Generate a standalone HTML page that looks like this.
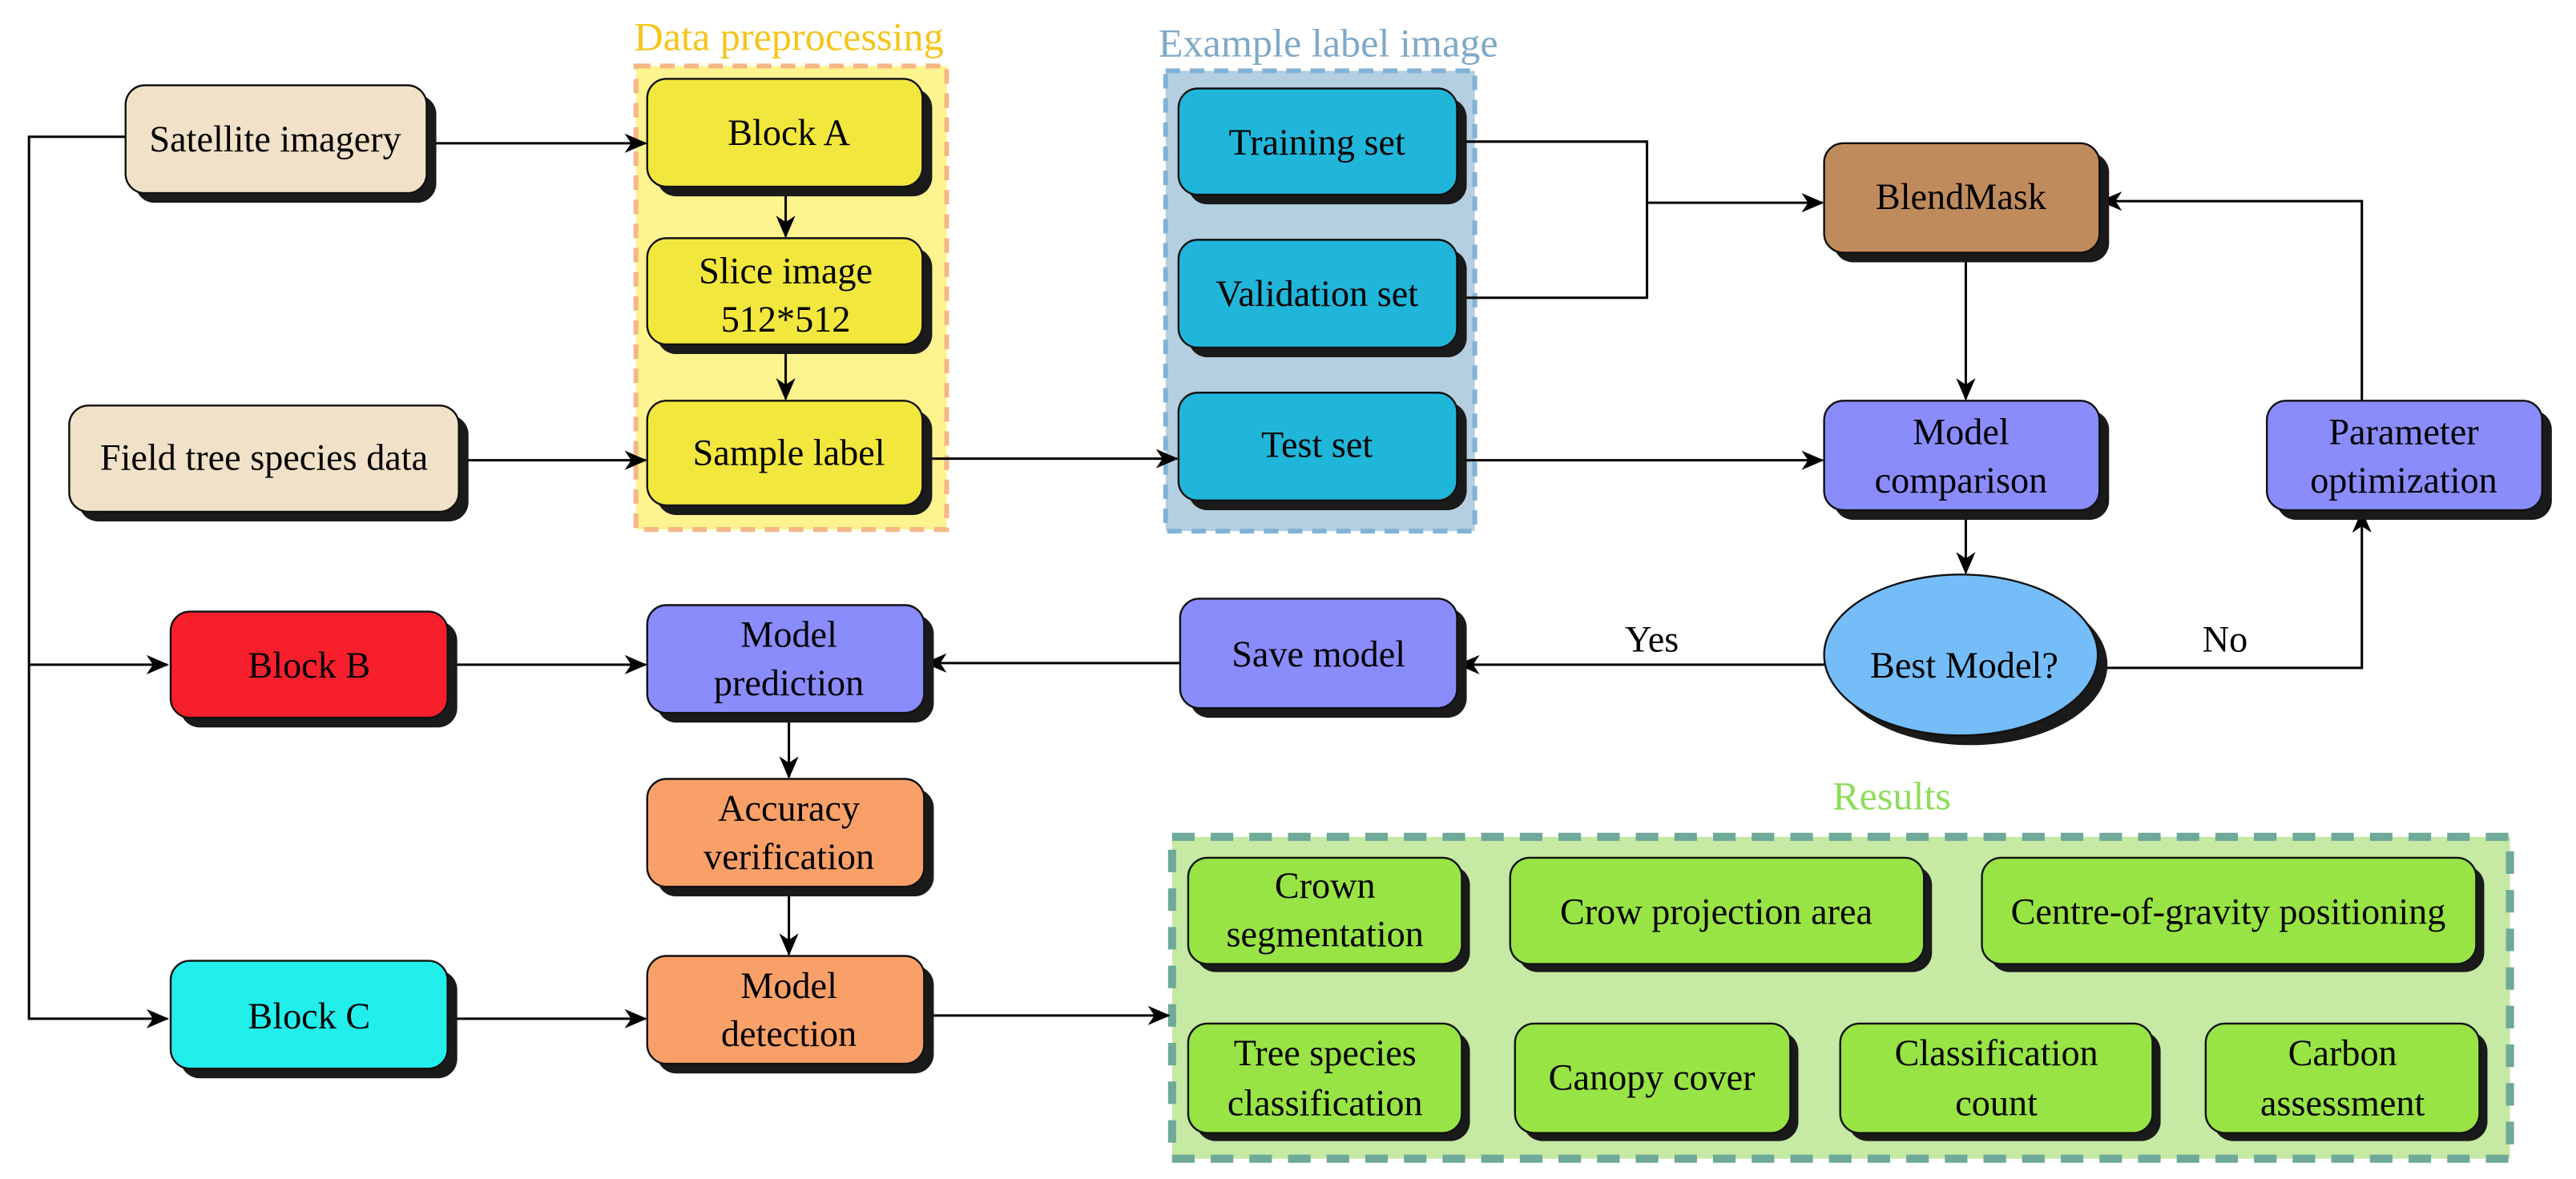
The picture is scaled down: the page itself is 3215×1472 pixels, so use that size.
<!DOCTYPE html>
<html><head><meta charset="utf-8"><style>
html,body{margin:0;padding:0;background:#fff;}
svg{display:block;}
svg text{font-family:"Liberation Serif","DejaVu Serif",serif;font-size:23px;fill:#000;text-anchor:middle;}
</style></head><body>
<svg width="3215" height="1472" viewBox="0 0 1600 732.6" preserveAspectRatio="none" xmlns="http://www.w3.org/2000/svg" font-family="Liberation Serif, DejaVu Serif, serif">
<defs>
<marker id="a" markerWidth="14" markerHeight="12" refX="13" refY="6" orient="auto" markerUnits="userSpaceOnUse">
<path d="M0,0 L14,6 L0,12 L4,6 Z" fill="#000"/>
</marker>
</defs>

<rect x="395" y="41" width="193" height="288" fill="#fdf38f" stroke="#f6b784" stroke-width="3" stroke-dasharray="9,6"/>
<text x="490" y="31" font-family="Liberation Serif, serif" style="fill:#f5c518;font-size:25px">Data preprocessing</text>
<rect x="724" y="44" width="192" height="286" fill="#b4cfe0" stroke="#82b3d6" stroke-width="3" stroke-dasharray="9,6"/>
<text x="825" y="35" font-family="Liberation Serif, serif" style="fill:#7fa9c8;font-size:25px">Example label image</text>
<rect x="728" y="520" width="831" height="200" fill="#c6e9a3" stroke="#6ea999" stroke-width="5" stroke-dasharray="14,10"/>
<text x="1175" y="503" font-family="Liberation Serif, serif" style="fill:#8fdc5c;font-size:25px">Results</text>

<g stroke="#000" stroke-width="1.5" fill="none">
<path d="M78,85 H18 V633 H104" marker-end="url(#a)"/>
<path d="M18,413 H104" marker-end="url(#a)"/>
<path d="M265,89 H401" marker-end="url(#a)"/>
<path d="M285,286 H401" marker-end="url(#a)"/>
<path d="M488,116 V147" marker-end="url(#a)"/>
<path d="M488,214 V248" marker-end="url(#a)"/>
<path d="M573,285 H731" marker-end="url(#a)"/>
<path d="M905,88 H1023 V185 H905"/>
<path d="M1023,126 H1132" marker-end="url(#a)"/>
<path d="M905,286 H1132" marker-end="url(#a)"/>
<path d="M1221,157 V248" marker-end="url(#a)"/>
<path d="M1221,317 V356" marker-end="url(#a)"/>
<path d="M1133,413 H906" marker-end="url(#a)"/>
<path d="M1303,415 H1467 V318" marker-end="url(#a)"/>
<path d="M1467,249 V125 H1305" marker-end="url(#a)"/>
<path d="M733,412 H575" marker-end="url(#a)"/>
<path d="M278,413 H401" marker-end="url(#a)"/>
<path d="M490,443 V483" marker-end="url(#a)"/>
<path d="M490,551 V593" marker-end="url(#a)"/>
<path d="M278,633 H401" marker-end="url(#a)"/>
<path d="M574,631 H726" marker-end="url(#a)"/>
</g>

<g stroke="#111" stroke-width="1.2">
<g fill="#1a1a1a" stroke="none">
<rect x="84" y="59" width="187" height="67" rx="12"/>
<rect x="49" y="258" width="242" height="66" rx="12"/>
<rect x="408" y="55" width="171" height="67" rx="12"/>
<rect x="408" y="154" width="171" height="66" rx="12"/>
<rect x="408" y="255" width="171" height="65" rx="12"/>
<rect x="738" y="61" width="173" height="66" rx="12"/>
<rect x="738" y="155" width="173" height="67" rx="12"/>
<rect x="738" y="250" width="173" height="67" rx="12"/>
<rect x="1139" y="95" width="171" height="68" rx="12"/>
<rect x="1139" y="255" width="171" height="68" rx="12"/>
<rect x="1414" y="255" width="171" height="68" rx="12"/>
<rect x="739" y="378" width="172" height="68" rx="12"/>
<ellipse cx="1224" cy="413" rx="85" ry="50"/>
<rect x="112" y="386" width="172" height="66" rx="12"/>
<rect x="408" y="382" width="172" height="67" rx="12"/>
<rect x="408" y="490" width="172" height="67" rx="12"/>
<rect x="408" y="600" width="172" height="67" rx="12"/>
<rect x="112" y="603" width="172" height="67" rx="12"/>
<rect x="743" y="538" width="170" height="66" rx="12"/>
<rect x="943" y="538" width="257" height="66" rx="12"/>
<rect x="1236" y="538" width="307" height="66" rx="12"/>
<rect x="743" y="641" width="170" height="68" rx="12"/>
<rect x="946" y="641" width="171" height="68" rx="12"/>
<rect x="1148" y="641" width="194" height="68" rx="12"/>
<rect x="1375" y="641" width="170" height="68" rx="12"/>
</g>
<rect x="78" y="53" width="187" height="67" rx="12" fill="#f0e1c8"/>
<rect x="43" y="252" width="242" height="66" rx="12" fill="#f0e1c8"/>
<rect x="402" y="49" width="171" height="67" rx="12" fill="#f2e73c"/>
<rect x="402" y="148" width="171" height="66" rx="12" fill="#f2e73c"/>
<rect x="402" y="249" width="171" height="65" rx="12" fill="#f2e73c"/>
<rect x="732" y="55" width="173" height="66" rx="12" fill="#20b6da"/>
<rect x="732" y="149" width="173" height="67" rx="12" fill="#20b6da"/>
<rect x="732" y="244" width="173" height="67" rx="12" fill="#20b6da"/>
<rect x="1133" y="89" width="171" height="68" rx="12" fill="#c08b5c"/>
<rect x="1133" y="249" width="171" height="68" rx="12" fill="#8a8cfb"/>
<rect x="1408" y="249" width="171" height="68" rx="12" fill="#8a8cfb"/>
<rect x="733" y="372" width="172" height="68" rx="12" fill="#8a8cfb"/>
<ellipse cx="1218" cy="407" rx="85" ry="50" fill="#74bdf8"/>
<rect x="106" y="380" width="172" height="66" rx="12" fill="#f71f2c"/>
<rect x="402" y="376" width="172" height="67" rx="12" fill="#8a8cfb"/>
<rect x="402" y="484" width="172" height="67" rx="12" fill="#f9a068"/>
<rect x="402" y="594" width="172" height="67" rx="12" fill="#f9a068"/>
<rect x="106" y="597" width="172" height="67" rx="12" fill="#22eeec"/>
<rect x="738" y="533" width="170" height="66" rx="12" fill="#98e445"/>
<rect x="938" y="533" width="257" height="66" rx="12" fill="#98e445"/>
<rect x="1231" y="533" width="307" height="66" rx="12" fill="#98e445"/>
<rect x="738" y="636" width="170" height="68" rx="12" fill="#98e445"/>
<rect x="941" y="636" width="171" height="68" rx="12" fill="#98e445"/>
<rect x="1143" y="636" width="194" height="68" rx="12" fill="#98e445"/>
<rect x="1370" y="636" width="170" height="68" rx="12" fill="#98e445"/>
</g>

<g font-family="Liberation Serif, DejaVu Serif, serif">
<text x="1026" y="405">Yes</text>
<text x="1382" y="405">No</text>
<text x="171" y="94">Satellite imagery</text>
<text x="164" y="292">Field tree species data</text>
<text x="490" y="90">Block A</text>
<text x="488" y="176">Slice image</text>
<text x="488" y="206">512*512</text>
<text x="490" y="289">Sample label</text>
<text x="818" y="96">Training set</text>
<text x="818" y="190">Validation set</text>
<text x="818" y="284">Test set</text>
<text x="1218" y="130">BlendMask</text>
<text x="1218" y="276">Model</text>
<text x="1218" y="306">comparison</text>
<text x="1493" y="276">Parameter</text>
<text x="1493" y="306">optimization</text>
<text x="819" y="414">Save model</text>
<text x="1220" y="421">Best Model?</text>
<text x="192" y="421">Block B</text>
<text x="490" y="402">Model</text>
<text x="490" y="432">prediction</text>
<text x="490" y="510">Accuracy</text>
<text x="490" y="540">verification</text>
<text x="490" y="620">Model</text>
<text x="490" y="650">detection</text>
<text x="192" y="639">Block C</text>
<text x="823" y="558">Crown</text>
<text x="823" y="588">segmentation</text>
<text x="1066" y="574">Crow projection area</text>
<text x="1384" y="574">Centre-of-gravity positioning</text>
<text x="823" y="662">Tree species</text>
<text x="823" y="693">classification</text>
<text x="1026" y="677">Canopy cover</text>
<text x="1240" y="662">Classification</text>
<text x="1240" y="693">count</text>
<text x="1455" y="662">Carbon</text>
<text x="1455" y="693">assessment</text>
</g>
</svg>
</body></html>
